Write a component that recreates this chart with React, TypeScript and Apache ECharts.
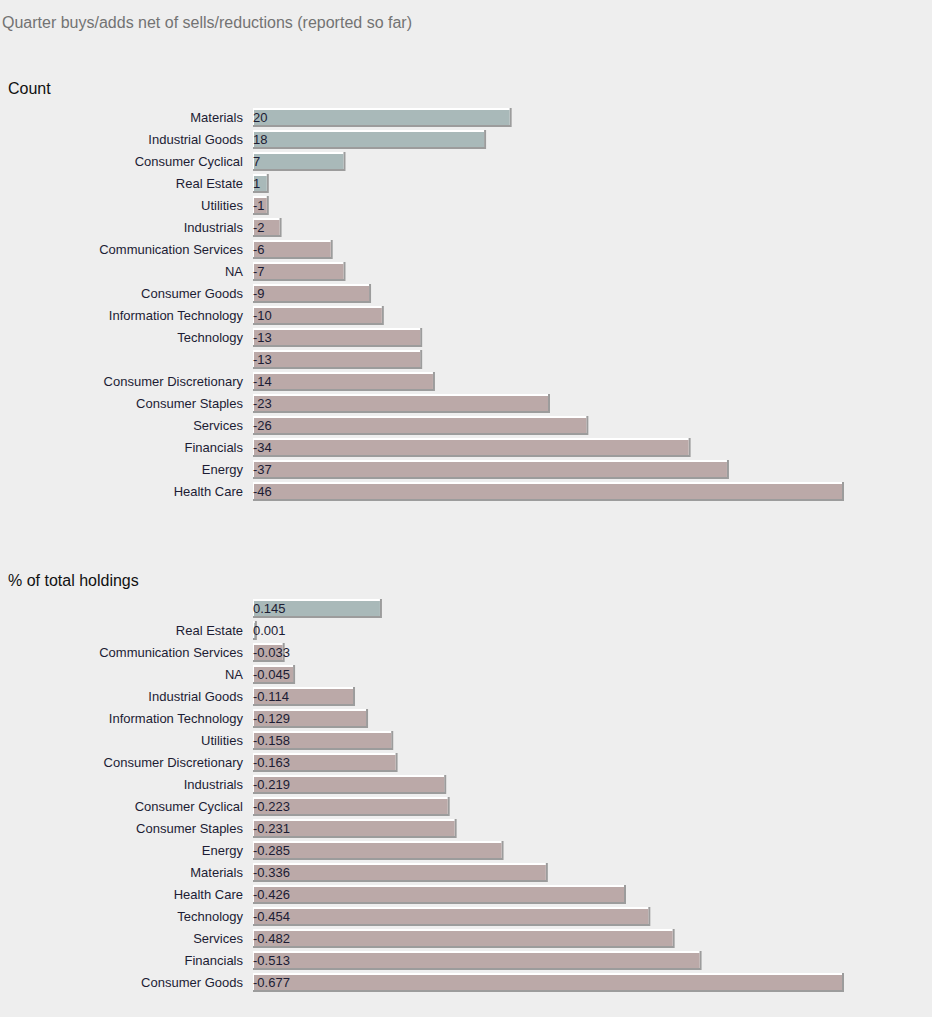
import React, { useEffect, useRef } from "react";
import * as echarts from "echarts";

const countCategories = [
  "Materials", "Industrial Goods", "Consumer Cyclical", "Real Estate", "Utilities", "Industrials",
  "Communication Services", "NA", "Consumer Goods", "Information Technology", "Technology", " ",
  "Consumer Discretionary", "Consumer Staples", "Services", "Financials", "Energy", "Health Care",
];
const countValues = [20, 18, 7, 1, -1, -2, -6, -7, -9, -10, -13, -13, -14, -23, -26, -34, -37, -46];
const countLabels = ["20", "18", "7", "1", "-1", "-2", "-6", "-7", "-9", "-10", "-13", "-13", "-14", "-23", "-26", "-34", "-37", "-46"];

const pctCategories = [
  " ", "Real Estate", "Communication Services", "NA", "Industrial Goods", "Information Technology",
  "Utilities", "Consumer Discretionary", "Industrials", "Consumer Cyclical", "Consumer Staples",
  "Energy", "Materials", "Health Care", "Technology", "Services", "Financials", "Consumer Goods",
];
const pctValues = [0.145, 0.001, -0.033, -0.045, -0.114, -0.129, -0.158, -0.163, -0.219, -0.223, -0.231, -0.285, -0.336, -0.426, -0.454, -0.482, -0.513, -0.677];
const pctLabels = ["0.145", "0.001", "-0.033", "-0.045", "-0.114", "-0.129", "-0.158", "-0.163", "-0.219", "-0.223", "-0.231", "-0.285", "-0.336", "-0.426", "-0.454", "-0.482", "-0.513", "-0.677"];

const POS = "#a9b9b9";
const NEG = "#bba9a8";
const FONT = "Liberation Sans, Arial, sans-serif";
const TEXT = "#1c1c34";

function makeRender(labels: string[]) {
  return (params: any, api: any) => {
    const absV = api.value(0);
    const raw = api.value(2);
    const idx = api.value(1);
    const start = api.coord([0, idx]);
    const end = api.coord([absV, idx]);
    const band = api.size([0, 1])[1];
    const h = Math.round(band * 0.87);
    const x0 = start[0];
    const w = Math.max(end[0] - start[0], 0) + 3;
    const y0 = Math.round(start[1] - h / 2);
    const fill = raw >= 0 ? POS : NEG;
    return {
      type: "group",
      children: [
        { type: "rect", shape: { x: x0, y: y0, width: w, height: h }, style: { fill: "#9c9c9c" } },
        { type: "rect", shape: { x: x0, y: y0, width: w - 2, height: h - 2 }, style: { fill: "#ffffff" } },
        { type: "rect", shape: { x: x0 + 1, y: y0 + 2, width: Math.max(w - 3, 0), height: h - 4 }, style: { fill } },
        {
          type: "text",
          style: {
            x: x0,
            y: start[1],
            text: labels[params.dataIndex],
            fill: TEXT,
            font: `13px ${FONT}`,
            verticalAlign: "middle",
            align: "left",
          },
        },
      ],
    };
  };
}

export default function App() {
  const ref = useRef<HTMLDivElement>(null);
  useEffect(() => {
    if (!ref.current) return;
    const chart = echarts.init(ref.current, null, { renderer: "svg" });
    const yAxisCommon = {
      type: "category" as const,
      inverse: true,
      axisLine: { show: false },
      axisTick: { show: false },
      splitLine: { show: false },
      axisLabel: { color: TEXT, fontSize: 13, fontFamily: FONT, margin: 10 },
    };
    const xAxisCommon = {
      type: "value" as const,
      min: 0,
      show: false,
      splitLine: { show: false },
    };
    chart.setOption({
      animation: false,
      backgroundColor: "#eeeeee",
      title: [
        { text: "Quarter buys/adds net of sells/reductions (reported so far)", left: 2, top: 14, padding: 0, textStyle: { color: "#737373", fontSize: 16, fontWeight: "normal", fontFamily: FONT } },
        { text: "Count", left: 8, top: 80, padding: 0, textStyle: { color: "#111111", fontSize: 16, fontWeight: "normal", fontFamily: FONT } },
        { text: "% of total holdings", left: 8, top: 572, padding: 0, textStyle: { color: "#111111", fontSize: 16, fontWeight: "normal", fontFamily: FONT } },
      ],
      grid: [
        { left: 253, top: 106, width: 588, height: 396 },
        { left: 253, top: 597, width: 588, height: 397 },
      ],
      xAxis: [
        { ...xAxisCommon, gridIndex: 0, max: 46 },
        { ...xAxisCommon, gridIndex: 1, max: 0.677 },
      ],
      yAxis: [
        { ...yAxisCommon, gridIndex: 0, data: countCategories },
        { ...yAxisCommon, gridIndex: 1, data: pctCategories },
      ],
      series: [
        {
          type: "custom",
          xAxisIndex: 0,
          yAxisIndex: 0,
          encode: { x: 0, y: 1 },
          data: countValues.map((v, i) => [Math.abs(v), i, v]),
          renderItem: makeRender(countLabels),
        },
        {
          type: "custom",
          xAxisIndex: 1,
          yAxisIndex: 1,
          encode: { x: 0, y: 1 },
          data: pctValues.map((v, i) => [Math.abs(v), i, v]),
          renderItem: makeRender(pctLabels),
        },
      ],
    });
    return () => chart.dispose();
  }, []);
  return (
    <div
      ref={ref}
      style={{ position: "fixed", left: 0, top: 0, width: 932, height: 1017, background: "#eeeeee" }}
    />
  );
}
